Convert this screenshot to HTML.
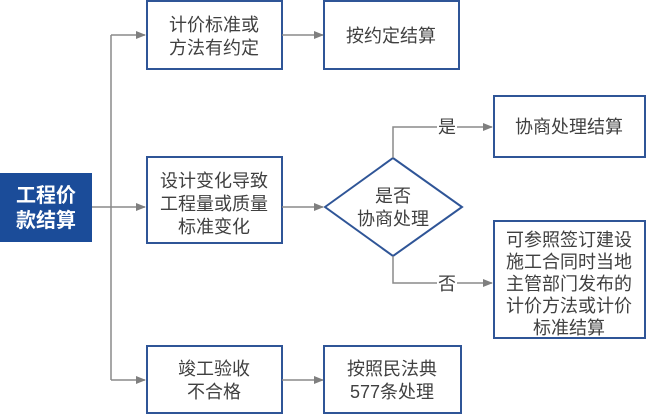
<!DOCTYPE html>
<html><head><meta charset="utf-8"><style>
html,body{margin:0;padding:0;background:#fff;}
svg{display:block;}
text{font-family:"Liberation Sans","Noto Sans CJK SC",sans-serif;font-size:18px;fill:#404040;text-anchor:middle;}
.b{fill:#fff;stroke:#2f5597;stroke-width:2;}
.l{fill:none;stroke:#8a8a8a;stroke-width:1.5;}
</style></head><body>
<svg width="647" height="415" viewBox="0 0 647 415">
<defs><marker id="a" markerWidth="10" markerHeight="10" refX="9" refY="5" orient="auto" markerUnits="userSpaceOnUse"><path d="M0,1 L10,5 L0,9 z" fill="#7f7f7f"/></marker></defs>
<rect x="0" y="173" width="92" height="69" fill="#1b4c99"/>
<text x="46" y="202" style="fill:#fff;font-weight:bold;font-size:20px">工程价</text>
<text x="46" y="227" style="fill:#fff;font-weight:bold;font-size:20px">款结算</text>
<path class="l" d="M92,207 H145" marker-end="url(#a)"/>
<path class="l" d="M111,35 V380"/>
<path class="l" d="M111,35 H145" marker-end="url(#a)"/>
<path class="l" d="M111,380 H145" marker-end="url(#a)"/>
<rect class="b" x="147" y="1" width="135" height="68"/>
<text x="214" y="31">计价标准或</text><text x="214" y="54">方法有约定</text>
<path class="l" d="M282,35 H323" marker-end="url(#a)"/>
<rect class="b" x="324" y="1" width="135" height="68"/>
<text x="391" y="42">按约定结算</text>
<rect class="b" x="147" y="157" width="135" height="86"/>
<text x="214" y="187">设计变化导致</text><text x="214" y="210">工程量或质量</text><text x="214" y="233">标准变化</text>
<path class="l" d="M282,207 H323" marker-end="url(#a)"/>
<polygon class="b" points="325,207 393,158 462,207 393,256"/>
<text x="393" y="202">是否</text><text x="393" y="225">协商处理</text>
<path class="l" d="M393,158 V127 H437 M457,127 H492" marker-end="url(#a)"/>
<text x="447" y="133">是</text>
<path class="l" d="M393,256 V283 H437 M457,283 H492" marker-end="url(#a)"/>
<text x="447" y="290">否</text>
<rect class="b" x="494" y="96" width="151" height="61"/>
<text x="569" y="133">协商处理结算</text>
<rect class="b" x="494" y="221" width="151" height="117"/>
<text x="569" y="246">可参照签订建设</text><text x="569" y="268">施工合同时当地</text><text x="569" y="290">主管部门发布的</text><text x="569" y="312">计价方法或计价</text><text x="569" y="334">标准结算</text>
<rect class="b" x="147" y="346" width="135" height="67"/>
<text x="214" y="375">竣工验收</text><text x="214" y="398">不合格</text>
<path class="l" d="M282,380 H323" marker-end="url(#a)"/>
<rect class="b" x="324" y="346" width="137" height="67"/>
<text x="392" y="375">按照民法典</text><text x="392" y="398">577条处理</text>
</svg>
</body></html>
